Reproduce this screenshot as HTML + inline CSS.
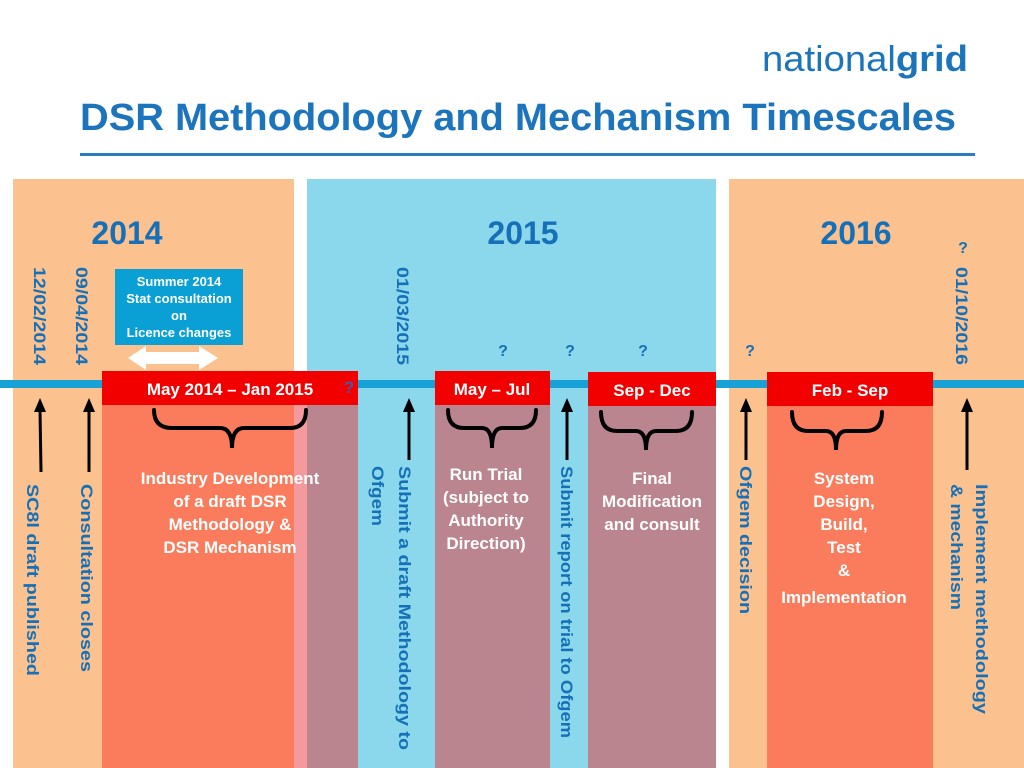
<!DOCTYPE html>
<html><head><meta charset="utf-8"><style>
html,body{margin:0;padding:0;background:#fff;}
svg{display:block;font-family:"Liberation Sans",sans-serif;font-weight:bold;}
</style></head><body>
<svg width="1024" height="768" viewBox="0 0 1024 768">
<text x="762" y="71" font-size="36" fill="#1C75BC" textLength="206" lengthAdjust="spacingAndGlyphs"><tspan font-weight="normal">national</tspan><tspan>grid</tspan></text>
<text x="80" y="130" font-size="38" fill="#1C75BC" textLength="876" lengthAdjust="spacingAndGlyphs">DSR Methodology and Mechanism Timescales</text>
<rect x="80" y="153" width="895" height="3" fill="#2A7DC0"/>

<rect x="13" y="179" width="281" height="589" fill="#FBC18F"/>
<rect x="307" y="179" width="409" height="589" fill="#8BD7EB"/>
<rect x="729" y="179" width="295" height="589" fill="#FBC18F"/>

<g font-size="32" fill="#1570B8" text-anchor="middle">
<text x="127" y="244">2014</text>
<text x="523" y="244">2015</text>
<text x="856" y="244">2016</text>
</g>

<rect x="0" y="380" width="1024" height="8" fill="#17A1D6"/>

<!-- phase columns -->
<rect x="102" y="405" width="192" height="363" fill="#FA7C5C"/>
<rect x="294" y="405" width="13" height="363" fill="#F59A9C"/>
<rect x="307" y="405" width="51" height="363" fill="#BA858E"/>
<rect x="435" y="405" width="115" height="363" fill="#BA858E"/>
<rect x="588" y="405" width="128" height="363" fill="#BA858E"/>
<rect x="767" y="405" width="166" height="363" fill="#FA7C5C"/>

<!-- red boxes -->
<rect x="102" y="371" width="256" height="34" fill="#F20000"/>
<rect x="435" y="371" width="115" height="34" fill="#F20000"/>
<rect x="588" y="372" width="128" height="34" fill="#F20000"/>
<rect x="767" y="372" width="166" height="34" fill="#F20000"/>
<g font-size="17" fill="#fff" text-anchor="middle">
<text x="230" y="395">May 2014 – Jan 2015</text>
<text x="492" y="395">May – Jul</text>
<text x="652" y="396">Sep - Dec</text>
<text x="850" y="396">Feb - Sep</text>
</g>
<text x="349" y="393" font-size="17" fill="#4659A8" text-anchor="middle">?</text>

<!-- summer box -->
<rect x="115" y="269" width="128" height="76" fill="#0AA0D5"/>
<g font-size="13" fill="#fff" text-anchor="middle">
<text x="179" y="286">Summer 2014</text><text x="179" y="303">Stat consultation</text><text x="179" y="320">on</text><text x="179" y="337">Licence changes</text>
</g>
<path d="M128 358 L146 346 L146 352 L199 352 L199 346 L218 358 L199 370 L199 364 L146 364 L146 370 Z" fill="#fff"/>

<!-- question marks -->
<g font-size="16" fill="#1570B8" text-anchor="middle">
<text x="503" y="356">?</text>
<text x="570" y="356">?</text>
<text x="643" y="356">?</text>
<text x="750" y="356">?</text>
<text x="963" y="253">?</text>
</g>

<!-- date labels rotated -->
<g font-size="17" fill="#1570B8">
<text transform="translate(34,267) rotate(90)" textLength="98" lengthAdjust="spacingAndGlyphs">12/02/2014</text>
<text transform="translate(76,267) rotate(90)" textLength="98" lengthAdjust="spacingAndGlyphs">09/04/2014</text>
<text transform="translate(397,267) rotate(90)" textLength="98" lengthAdjust="spacingAndGlyphs">01/03/2015</text>
<text transform="translate(956,267) rotate(90)" textLength="98" lengthAdjust="spacingAndGlyphs">01/10/2016</text>
</g>

<!-- arrows -->
<g stroke="#000" stroke-width="3" fill="#000">
<line x1="40" y1="410" x2="41" y2="472"/><path d="M40 398 L34 412 L46 412 Z" stroke="none"/>
<line x1="89" y1="410" x2="89" y2="472"/><path d="M89 398 L83 412 L95 412 Z" stroke="none"/>
<line x1="409" y1="410" x2="409" y2="460"/><path d="M409 398 L403 412 L415 412 Z" stroke="none"/>
<line x1="567" y1="410" x2="567" y2="460"/><path d="M567 398 L561 412 L573 412 Z" stroke="none"/>
<line x1="746" y1="410" x2="746" y2="460"/><path d="M746 398 L740 412 L752 412 Z" stroke="none"/>
<line x1="967" y1="410" x2="967" y2="470"/><path d="M967 398 L961 412 L973 412 Z" stroke="none"/>
</g>

<!-- braces -->
<g fill="none" stroke="#000" stroke-width="4" stroke-linecap="round">
<path d="M154 410 Q154 428 172 428 L220 428 Q232 428 232 448 Q232 428 244 428 L290 428 Q306 428 306 410"/>
<path d="M448 410 Q448 428 464 428 L482 428 Q492 428 492 448 Q492 428 502 428 L520 428 Q536 428 536 410"/>
<path d="M601 412 Q601 431 617 431 L636 431 Q646 431 646 450 Q646 431 656 431 L676 431 Q692 431 692 412"/>
<path d="M792 412 Q792 431 808 431 L826 431 Q836 431 836 450 Q836 431 846 431 L866 431 Q882 431 882 412"/>
</g>

<!-- phase descriptions -->
<g font-size="17" fill="#fff" text-anchor="middle">
<g><text x="230" y="484">Industry Development</text><text x="230" y="507">of a draft DSR</text><text x="230" y="530">Methodology &amp;</text><text x="230" y="553">DSR Mechanism</text></g>
<g><text x="486" y="480">Run Trial</text><text x="486" y="503">(subject to</text><text x="486" y="526">Authority</text><text x="486" y="549">Direction)</text></g>
<g><text x="652" y="484">Final</text><text x="652" y="507">Modification</text><text x="652" y="530">and consult</text></g>
<g><text x="844" y="484">System</text><text x="844" y="507">Design,</text><text x="844" y="530">Build,</text><text x="844" y="553">Test</text><text x="844" y="576">&amp;</text><text x="844" y="603">Implementation</text></g>
</g>

<!-- vertical milestone labels -->
<g font-size="17" fill="#1570B8">
<text transform="translate(27,484) rotate(90)" textLength="192" lengthAdjust="spacingAndGlyphs">SC8l draft published</text>
<text transform="translate(81,484) rotate(90)" textLength="188" lengthAdjust="spacingAndGlyphs">Consultation closes</text>
<text transform="translate(399,466) rotate(90)" textLength="284" lengthAdjust="spacingAndGlyphs">Submit a draft Methodology to</text>
<text transform="translate(372,466) rotate(90)" textLength="60" lengthAdjust="spacingAndGlyphs">Ofgem</text>
<text transform="translate(561,466) rotate(90)" textLength="272" lengthAdjust="spacingAndGlyphs">Submit report on trial to Ofgem</text>
<text transform="translate(740,466) rotate(90)" textLength="148" lengthAdjust="spacingAndGlyphs">Ofgem decision</text>
<text transform="translate(976,484) rotate(90)" textLength="230" lengthAdjust="spacingAndGlyphs">Implement methodology</text>
<text transform="translate(951,484) rotate(90)" textLength="126" lengthAdjust="spacingAndGlyphs">&amp; mechanism</text>
</g>
</svg>
</body></html>
